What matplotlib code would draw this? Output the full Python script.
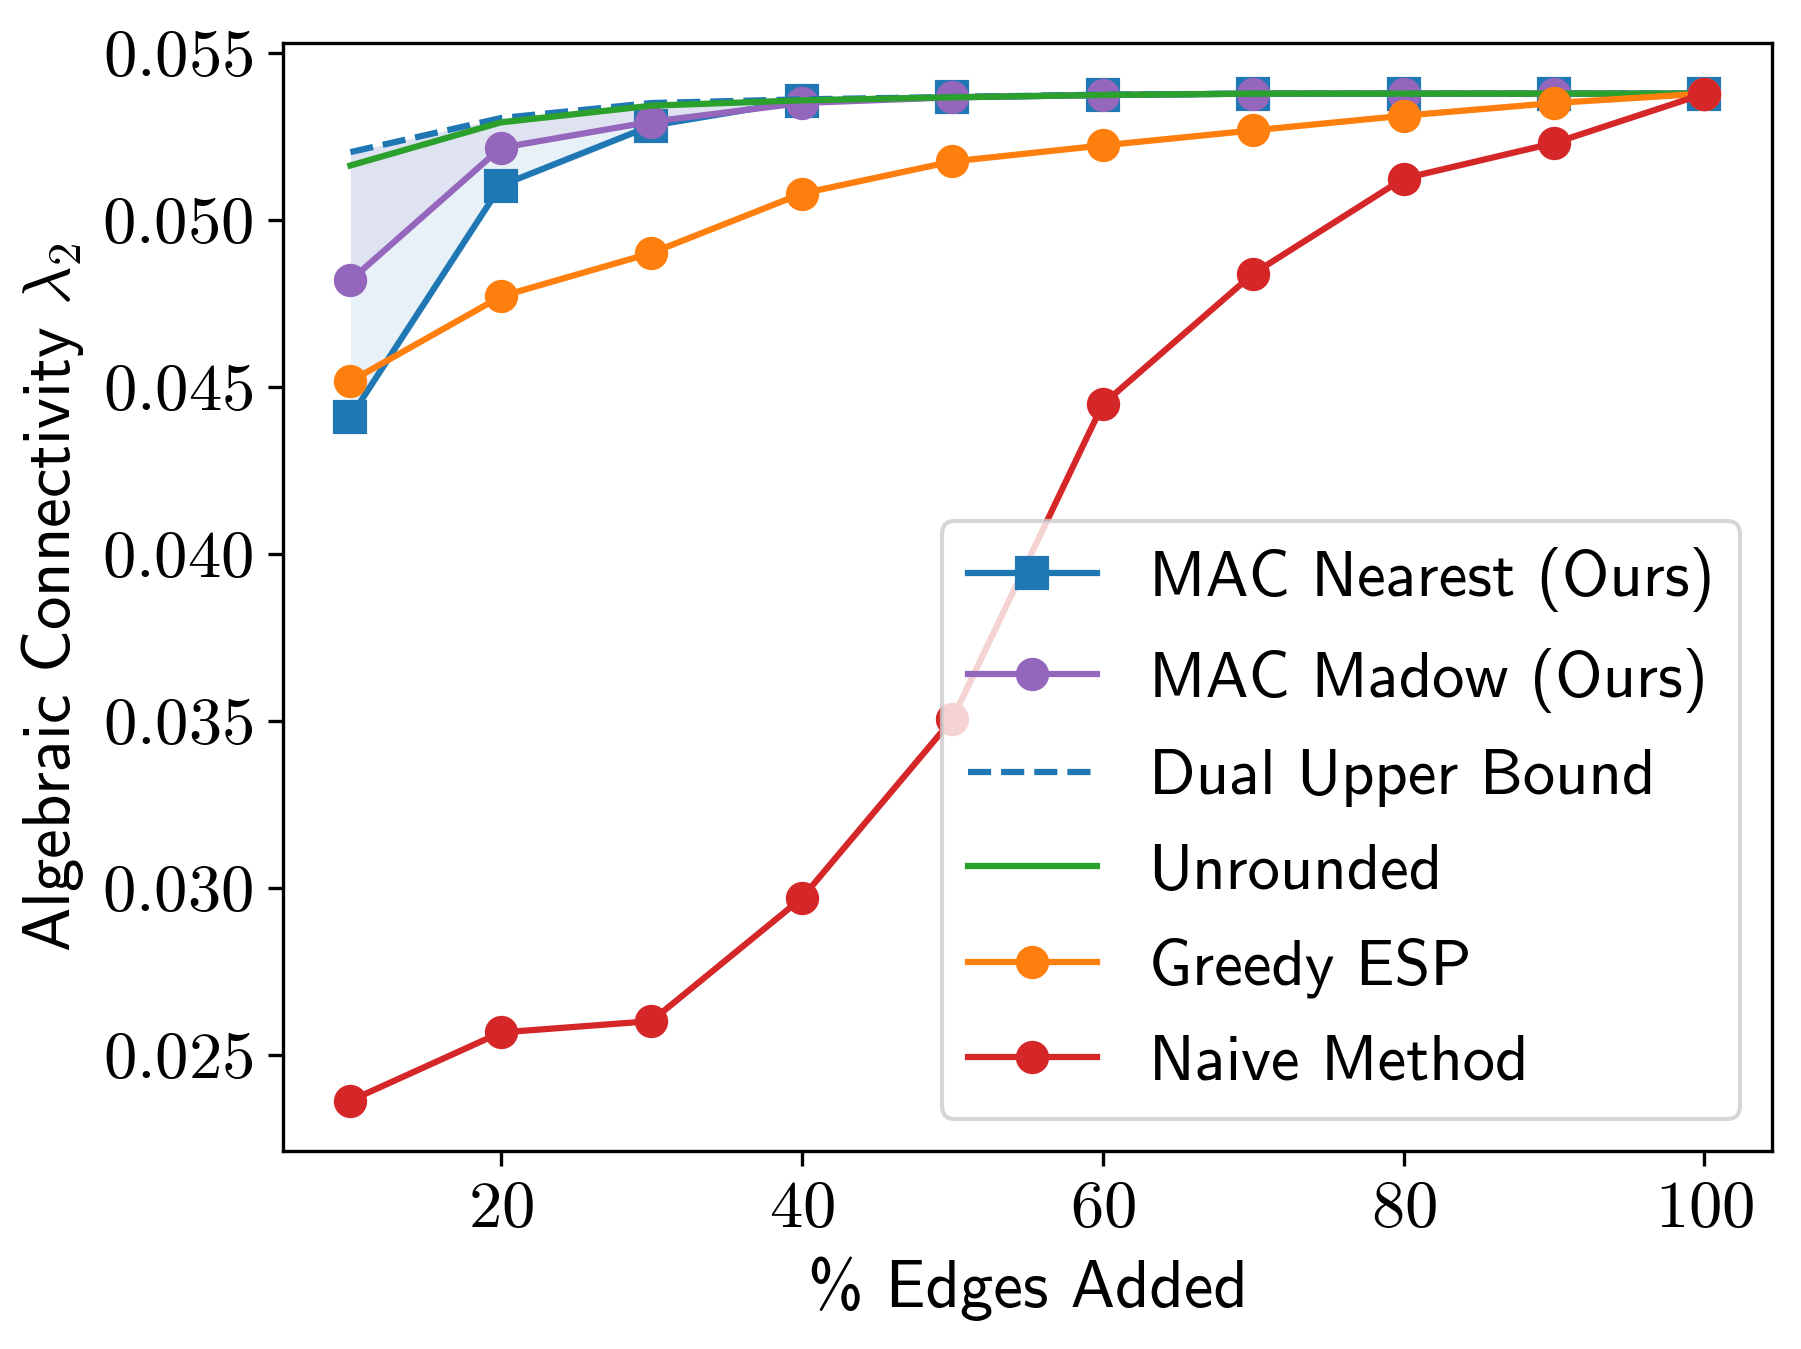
import numpy as np
import matplotlib
matplotlib.use("Agg")
import matplotlib.pyplot as plt
from matplotlib.ticker import FormatStrFormatter

plt.rcParams["font.family"] = ["cmss10", "DejaVu Sans"]
plt.rcParams["mathtext.fontset"] = "cm"
plt.rcParams["axes.unicode_minus"] = False
plt.rcParams["font.size"] = 16

# % edges added
pct = [10, 20, 30, 40, 50, 60, 70, 80, 90, 100]

mac_nearest = [0.04409, 0.05102, 0.05281, 0.05356, 0.05366, 0.05373, 0.05377, 0.05377, 0.05377, 0.05377]
mac_madow = [0.04818, 0.05215, 0.05293, 0.05349, 0.05366, 0.05373, 0.05377, 0.05377, 0.05377, 0.05377]
dual_upper = [0.05202, 0.05304, 0.05349, 0.05360, 0.05367, 0.05374, 0.05377, 0.05377, 0.05377, 0.05377]
unrounded = [0.05162, 0.05291, 0.05341, 0.05357, 0.05366, 0.05373, 0.05377, 0.05377, 0.05377, 0.05377]
greedy_esp = [0.04516, 0.04770, 0.04900, 0.05078, 0.05174, 0.05222, 0.05267, 0.05311, 0.05349, 0.05377]
naive = [0.02363, 0.02567, 0.02601, 0.02969, 0.03504, 0.04447, 0.04838, 0.05123, 0.05229, 0.05377]

fig = plt.figure(figsize=(1801 / 300, 1349 / 300), dpi=300)
ax = fig.add_axes([0.157, 0.1468, 0.827, 0.8211])

ax.plot(pct, mac_nearest, "-s", color="C0", ms=7, label="MAC Nearest (Ours)")
ax.plot(pct, mac_madow, "-o", color="C4", ms=7, label="MAC Madow (Ours)")
ax.plot(pct, dual_upper, "--", color="C0", label="Dual Upper Bound")
ax.plot(pct, unrounded, "-", color="C2", label="Unrounded")
ax.plot(pct, greedy_esp, "-o", color="C1", ms=7, label="Greedy ESP")
ax.plot(pct, naive, "-o", color="C3", ms=7, label="Naive Method")

# shaded gap between rounded solutions and the dual bound
ax.fill_between(pct, mac_nearest, dual_upper, color="C0", alpha=0.1, lw=0)
ax.fill_between(pct, mac_madow, dual_upper, color="C4", alpha=0.1, lw=0)

ax.set_xticks([20, 40, 60, 80, 100])
ax.set_yticks([0.025, 0.030, 0.035, 0.040, 0.045, 0.050, 0.055])
ax.xaxis.set_major_formatter(FormatStrFormatter(r"$%d$"))
ax.yaxis.set_major_formatter(FormatStrFormatter(r"$%.3f$"))
ax.tick_params(labelsize=16)

ax.set_xlabel("% Edges Added", fontsize=16)
ax.set_ylabel(r"Algebraic Connectivity $\lambda_2$", fontsize=16)

ax.legend(loc="lower right", fontsize=15.5, labelspacing=0.56)

fig.savefig("out.png", dpi=300)
